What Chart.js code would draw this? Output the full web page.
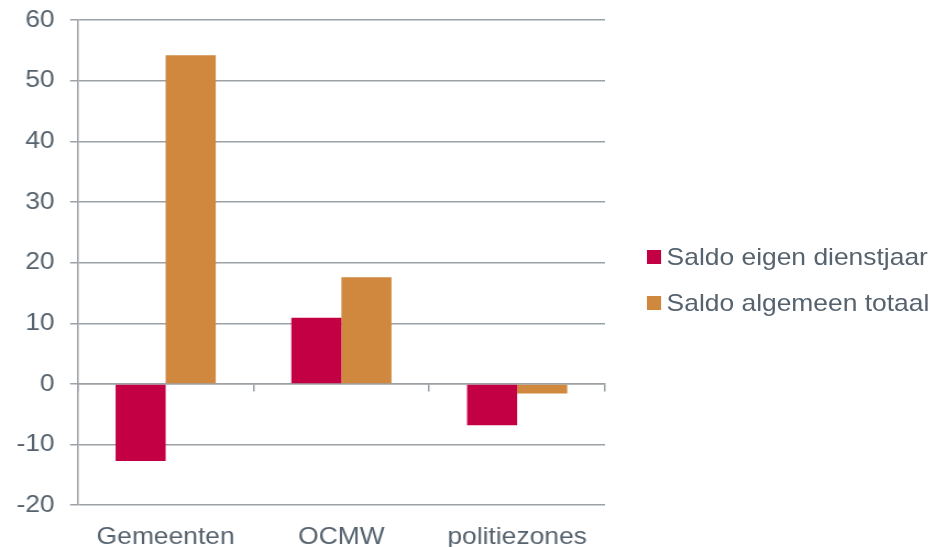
<!DOCTYPE html>
<html>
<head>
<meta charset="utf-8">
<script src="https://cdn.jsdelivr.net/npm/chart.js@4/dist/chart.umd.min.js"></script>
<style>
    html, body { margin: 0; padding: 0; background: #ffffff; overflow: hidden; }
    /* drawn a little narrow, then widened to 947px */
    #stage {
        position: relative;
        width: 861px;
        height: 547px;
        transform: scaleX(1.1);
        transform-origin: 0 0;
    }
    #chartBox { position: absolute; left: 0; top: 0; width: 861px; height: 547px; }
    #legend {
        position: absolute;
        left: 588px;
        top: 234px;
        font-family: "Liberation Sans", Arial, sans-serif;
        font-size: 24px;
        color: #56636e;
    }
    .legend-item { display: flex; align-items: center; height: 46px; white-space: nowrap; }
    .legend-swatch { width: 13px; height: 14px; margin-right: 5px; }
</style>
</head>
<body>
<div id="stage">
    <div id="chartBox"><canvas id="saldoChart"></canvas></div>
    <div id="legend"></div>
</div>
<script>
const categories = ['Gemeenten', 'OCMW', 'politiezones'];
const saldoEigenDienstjaar = [-12.7, 10.9, -6.8];
const saldoAlgemeenTotaal = [54.2, 17.6, -1.6];
const yTicks = [-20, -10, 0, 10, 20, 30, 40, 50, 60];

const textColor = '#56636e';
const lineColor = '#9ca1a6';
const font = { family: '"Liberation Sans", Arial, sans-serif', size: 24 };

Chart.defaults.font.family = font.family;
Chart.defaults.color = textColor;

const ctx = document.getElementById('saldoChart').getContext('2d');
const chart = new Chart(ctx, {
    type: 'bar',
    data: {
        labels: categories,
        datasets: [
            {
                label: 'Saldo eigen dienstjaar',
                data: saldoEigenDienstjaar,
                backgroundColor: '#c40044',
                categoryPercentage: 0.57,
                barPercentage: 1.0
            },
            {
                label: 'Saldo algemeen totaal',
                data: saldoAlgemeenTotaal,
                backgroundColor: '#cf883d',
                categoryPercentage: 0.57,
                barPercentage: 1.0
            }
        ]
    },
    options: {
        responsive: true,
        maintainAspectRatio: false,
        animation: false,
        layout: {
            padding: { left: 1, top: 0, right: 311, bottom: -23 }
        },
        plugins: {
            legend: { display: false },
            tooltip: { enabled: false }
        },
        scales: {
            x: {
                grid: { display: false, drawTicks: false },
                border: { display: false },
                ticks: { font: font, color: textColor, padding: 18 }
            },
            // axis line along zero with the category tick marks
            xZero: {
                axis: 'x',
                type: 'category',
                position: { y: 0 },
                offset: true,
                grid: {
                    offset: true,
                    drawOnChartArea: false,
                    drawTicks: true,
                    tickLength: 7,
                    color: lineColor,
                    lineWidth: 1.5
                },
                border: { display: true, color: lineColor, width: 1.5 },
                ticks: { display: false }
            },
            y: {
                min: -20,
                max: 60,
                afterBuildTicks: (scale) => {
                    scale.ticks = yTicks.map(v => ({ value: v }));
                },
                // keep the top of the plot close to the edge
                afterFit: (scale) => {
                    scale.paddingTop = 20;
                },
                grid: {
                    color: lineColor,
                    lineWidth: 1.5,
                    tickLength: 7
                },
                border: { display: true, color: lineColor, width: 1.5 },
                ticks: { font: font, color: textColor, padding: 14 }
            }
        }
    }
});

// legend built from the chart's own datasets
const legendEl = document.getElementById('legend');
chart.data.datasets.forEach(ds => {
    const item = document.createElement('div');
    item.className = 'legend-item';
    item.innerHTML = `<span class="legend-swatch" style="background:${ds.backgroundColor}"></span><span>${ds.label}</span>`;
    legendEl.appendChild(item);
});
</script>
</body>
</html>
